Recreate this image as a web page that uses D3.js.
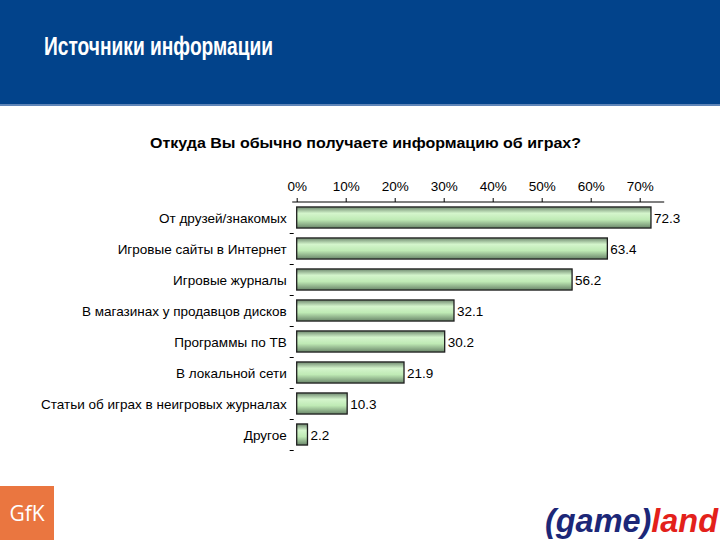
<!DOCTYPE html>
<html>
<head>
<meta charset="utf-8">
<script src="https://cdn.jsdelivr.net/npm/d3@7"></script>
<style>
body { margin: 0; background: #fff; }
svg { display: block; font-family: "Liberation Sans", Arial, sans-serif; }
</style>
</head>
<body>
<svg id="canvas" width="720" height="540"></svg>
<script>
var categories = ['От друзей/знакомых', 'Игровые сайты в Интернет', 'Игровые журналы',
    'В магазинах у продавцов дисков', 'Программы по ТВ', 'В локальной сети',
    'Статьи об играх в неигровых журналах', 'Другое'];
var values = [72.3, 63.4, 56.2, 32.1, 30.2, 21.9, 10.3, 2.2];
var tick_values = [0, 10, 20, 30, 40, 50, 60, 70];

var title = 'Источники информации';
var subtitle = 'Откуда Вы обычно получаете информацию об играх?';

draw_chart();

function draw_chart(){
    var svg = d3.select('#canvas');
    var plot = {left: 296.7, top: 202, width: 367.5, height: 248};

    // header band
    svg.append('rect').attr('x', 0).attr('y', 0).attr('width', 720).attr('height', 105).attr('fill', '#02438b');
    svg.append('rect').attr('x', 0).attr('y', 104).attr('width', 720).attr('height', 2).attr('fill', '#5f85b8');
    svg.append('text').attr('x', 44).attr('y', 55)
        .attr('fill', '#fff').attr('font-size', 26).attr('font-weight', 'bold')
        .attr('textLength', 229).attr('lengthAdjust', 'spacingAndGlyphs')
        .text(title);

    svg.append('text').attr('x', 150).attr('y', 148)
        .attr('font-size', 15).attr('font-weight', 'bold').attr('fill', '#000')
        .attr('textLength', 431).attr('lengthAdjust', 'spacingAndGlyphs')
        .text(subtitle);

    var defs = svg.append('defs');
    var grad = defs.append('linearGradient').attr('id', 'bar-grad')
        .attr('x1', 0).attr('y1', 0).attr('x2', 0).attr('y2', 1);
    grad.append('stop').attr('offset', '0%').attr('stop-color', '#6e886e');
    grad.append('stop').attr('offset', '30%').attr('stop-color', '#d4f5cc');
    grad.append('stop').attr('offset', '60%').attr('stop-color', '#bfeab5');
    grad.append('stop').attr('offset', '100%').attr('stop-color', '#6a866a');

    var x_scale = d3.scaleLinear().domain([0, 75]).range([0, plot.width]);
    var y_scale = d3.scaleBand().domain(categories).range([0, plot.height]).paddingInner(0.32).paddingOuter(0.16);

    var g = svg.append('g').attr('transform', 'translate(' + plot.left + ',' + plot.top + ')');

    // top value axis
    var x_axis = g.append('g').attr('class', 'x-axis')
        .call(d3.axisTop(x_scale).tickValues(tick_values).tickSize(4).tickSizeOuter(0)
            .tickFormat(function(d){ return d + '%'; }));
    x_axis.select('.domain').remove();
    x_axis.selectAll('.tick line').attr('stroke', '#000');
    x_axis.selectAll('.tick text').attr('font-size', 13.5).attr('fill', '#000')
        .attr('font-family', '"Liberation Sans", Arial, sans-serif').attr('dy', '-4');
    g.append('line').attr('x1', -4.5).attr('x2', plot.width).attr('y1', 0).attr('y2', 0)
        .attr('stroke', '#000').attr('stroke-width', 1.2);

    // category tick marks at band boundaries
    var step = y_scale.step();
    g.selectAll('.cat-tick').data(d3.range(1, categories.length + 1)).enter().append('line')
        .attr('class', 'cat-tick')
        .attr('x1', -7).attr('x2', -3)
        .attr('y1', function(d){ return d * step + 0.5; })
        .attr('y2', function(d){ return d * step + 0.5; })
        .attr('stroke', '#000');

    // bars
    g.selectAll('.bar').data(values).enter().append('rect')
        .attr('class', 'bar')
        .attr('x', 0)
        .attr('y', function(d, i){ return y_scale(categories[i]); })
        .attr('width', function(d){ return x_scale(d); })
        .attr('height', y_scale.bandwidth())
        .attr('fill', 'url(#bar-grad)')
        .attr('stroke', '#1e1e1e').attr('stroke-width', 1.3);

    // value labels
    g.selectAll('.val').data(values).enter().append('text')
        .attr('class', 'val')
        .attr('x', function(d){ return x_scale(d) + 3; })
        .attr('y', function(d, i){ return y_scale(categories[i]) + y_scale.bandwidth() / 2 + 5; })
        .attr('font-size', 13.5).attr('fill', '#000')
        .text(function(d){ return d.toFixed(1); });

    // category labels
    g.selectAll('.cat').data(categories).enter().append('text')
        .attr('class', 'cat')
        .attr('x', -10)
        .attr('y', function(d){ return y_scale(d) + y_scale.bandwidth() / 2 + 5; })
        .attr('text-anchor', 'end').attr('font-size', 13.5).attr('fill', '#000')
        .text(function(d){ return d; });

    // logos
    svg.append('rect').attr('x', 0).attr('y', 486).attr('width', 54).attr('height', 54).attr('fill', '#ea7640');
    svg.append('text').attr('x', 27).attr('y', 521).attr('text-anchor', 'middle')
        .attr('fill', '#fff').attr('font-size', 21).attr('font-family', '"Open Sans", sans-serif')
        .text('GfK');

    var logo = svg.append('text').attr('x', 545).attr('y', 532)
        .attr('font-size', 34).attr('font-weight', 'bold').attr('font-style', 'italic')
        .attr('textLength', 173).attr('lengthAdjust', 'spacingAndGlyphs');
    logo.append('tspan').attr('fill', '#1c2778').text('(game)');
    logo.append('tspan').attr('fill', '#e3211b').text('land');
}
</script>
</body>
</html>
